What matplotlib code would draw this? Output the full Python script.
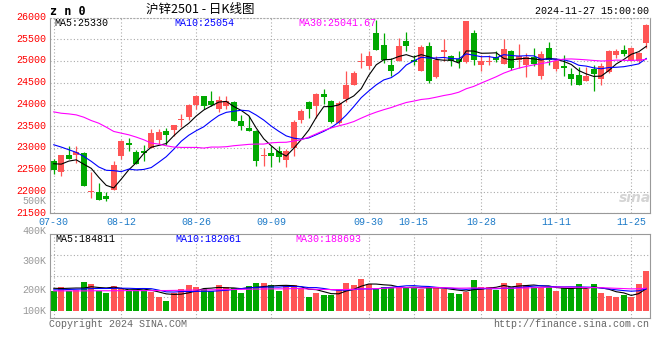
import matplotlib
matplotlib.use("Agg")
import matplotlib.pyplot as plt
import matplotlib.transforms as mtransforms
import numpy as np
import pandas as pd

plt.rcParams['font.family'] = ['Liberation Mono', 'DejaVu Sans Mono']

# daily candles, 07-30 .. 11-27 (80 trading days)
opens = [22710, 22443, 22847, 22832, 22878, 21990, 22000, 21909, 22031, 22824,
         23114, 22901, 22924, 23000, 23191, 23397, 23420, 23649, 23725, 23992,
         24192, 24077, 23900, 23977, 24054, 23615, 23462, 23385, 22808, 22885,
         22923, 22731, 23000, 23639, 24061, 23977, 24254, 24077, 23577, 24131,
         24443, 24985, 24878, 25641, 25374, 24916, 24992, 25473, 25031, 24779,
         25336, 24626, 25198, 25107, 25053, 24977, 25641, 24901, 24969, 25092,
         24939, 25237, 25031, 24916, 25092, 24649, 25298, 24817, 24878, 24710,
         24687, 24535, 24824, 24596, 24748, 25130, 25259, 25008, 24992, 25412]
highs = [22748, 22847, 23053, 23053, 22901, 22455, 22199, 21985, 22702, 23191,
         23229, 22962, 23076, 23435, 23435, 23458, 23534, 23786, 24007, 24221,
         24208, 24308, 24192, 24192, 24077, 23769, 23731, 23423, 23000, 23038,
         23038, 22977, 23654, 23900, 24092, 24269, 24361, 24100, 24077, 24769,
         24763, 25183, 25237, 25946, 25641, 25069, 25542, 25679, 25145, 25359,
         25450, 25107, 25511, 25145, 25237, 25923, 25717, 25145, 25145, 25237,
         25511, 25259, 25389, 25183, 25298, 25237, 25450, 25069, 25145, 24840,
         24855, 24855, 24916, 24954, 25259, 25282, 25374, 25313, 25206, 25847]
lows = [22397, 22351, 22756, 22657, 22123, 21850, 21817, 21779, 22031, 22756,
        22924, 22641, 22695, 23000, 23092, 23076, 23267, 23481, 23649, 23893,
        23900, 23977, 23823, 23900, 23615, 23423, 23385, 22593, 22577, 22562,
        22670, 22562, 22808, 23577, 23692, 23692, 24023, 23577, 23562, 24054,
        24443, 24840, 24824, 25259, 24954, 24649, 24992, 25221, 24916, 24763,
        24496, 24611, 24992, 24878, 24840, 24954, 24916, 24763, 24916, 24977,
        24939, 24802, 24840, 24626, 24878, 24596, 24916, 24779, 24649, 24458,
        24443, 24535, 24321, 24458, 24725, 25069, 25107, 24992, 24954, 25298]
closes = [22489, 22847, 22756, 22916, 22138, 22010, 21817, 21833, 22618, 23153,
          23076, 22641, 22886, 23343, 23359, 23290, 23534, 23671, 23992, 24198,
          23977, 24000, 24115, 24077, 23615, 23515, 23400, 22693, 22846, 22808,
          22793, 22938, 23592, 23846, 23900, 24254, 24169, 23600, 24038, 24461,
          24725, 25008, 25122, 25259, 25031, 24779, 25336, 25336, 24977, 25313,
          24535, 25031, 25244, 24992, 24977, 25923, 25015, 24992, 25008, 25015,
          25282, 24840, 25107, 25084, 24939, 25160, 25031, 24992, 24840, 24588,
          24458, 24649, 24702, 24878, 25221, 25221, 25160, 25298, 25183, 25832]
volumes = [167600, 198600, 167600, 173500, 240500, 223700, 167600, 148300, 207000, 190200,
           162600, 173500, 173500, 159200, 117300, 81300, 150800, 184400, 215400, 198600,
           179300, 167600, 215400, 198600, 192700, 148300, 207000, 232100, 232100, 215400,
           167600, 215400, 215400, 187700, 114800, 148300, 131600, 131600, 181800, 232100,
           215400, 265600, 223700, 179300, 201100, 196100, 196100, 196100, 196100, 179300,
           196100, 196100, 179300, 148300, 139900, 159200, 257300, 196100, 196100, 173500,
           234600, 196100, 234600, 215400, 196100, 196100, 196100, 167600, 187700, 179300,
           223700, 179300, 223700, 148300, 125700, 117300, 131600, 117300, 223700, 335200]

ma5_head = [22640, 22630, 22700, 22730]
ma10_head = [23076, 23023, 22962, 22901, 22809, 22695, 22565, 22489, 22481]
ma30_head = [23832, 23801, 23786, 23763, 23710, 23633, 23572, 23481, 23382, 23343,
             23305, 23252, 23191, 23114, 23092, 23053, 23023, 23015, 23015, 23015,
             23000, 23023, 23023, 23031, 23054, 23069, 23085, 23092, 23092]
vma5_head = [188000, 186000, 188000, 190000]
vma10_head = [175000, 175000, 178000, 180000, 182000, 185000, 186000, 186000, 187000]
vma30_head = [166000, 166000, 166000, 166000, 166000, 167000, 167000, 167000, 167000, 168000,
              168000, 168000, 168000, 168000, 169000, 169000, 170000, 171000, 172000, 173000,
              174000, 175000, 176000, 177000, 178000, 179000, 180000, 181000, 182000]

tick_pos = [0, 9, 19, 29, 42, 48, 57, 67, 77]
tick_labels = ['07-30', '08-12', '08-26', '09-09', '09-30', '10-15', '10-28', '11-11', '11-25']
price_ticks = [21500, 22000, 22500, 23000, 23500, 24000, 24500, 25000, 25500, 26000]


def with_head(values, n, head):
    ma = pd.Series(values, dtype=float).rolling(n).mean().to_numpy()
    ma[:len(head)] = head
    return ma


W, H = 660, 360
RED, GREEN = '#ff5555', '#00a800'
GRID = '#aaaaaa'
EDGE = '#999999'

fig = plt.figure(figsize=(W / 100, H / 100), dpi=100)


def box(x0, y0, x1, y1):
    return [x0 / W, 1 - y1 / H, (x1 - x0) / W, (y1 - y0) / H]


def ftext(x, y, s, **kw):
    kw.setdefault('va', 'center')
    kw.setdefault('fontsize', 7.2)
    fig.text(x / W, 1 - y / H, s, **kw)


x = np.arange(len(closes))
o = np.array(opens); c = np.array(closes)
colors = np.where(c >= o, RED, GREEN)

# ---- price panel
ax = fig.add_axes(box(50, 17.6, 650, 213.3))
ax.vlines(x, lows, highs, colors=colors, linewidth=0.9)
body = np.maximum(np.abs(c - o), 20)
ax.bar(x, body, bottom=np.minimum(o, c), width=0.8, color=colors, linewidth=0)
ax.plot(x, with_head(closes, 5, ma5_head), color='black', lw=0.8)
ax.plot(x, with_head(closes, 10, ma10_head), color='#0000ff', lw=0.8)
ax.plot(x, with_head(closes, 30, ma30_head), color='#ff00ff', lw=0.8)
ax.set_xlim(-0.5, len(x) - 0.5)
ax.set_ylim(21500, 26000)
ax.set_yticks(price_ticks)
ax.set_yticklabels([str(p) for p in price_ticks])
ax.set_xticks(tick_pos)
ax.set_xticklabels(tick_labels)
ax.tick_params(axis='y', length=0, pad=3, labelsize=7.2, labelcolor='#ff0000')
ax.tick_params(axis='x', length=0, pad=2.8, labelsize=7.2, labelcolor='#1e7bc8')
# price labels sit a little above their grid lines
lift = mtransforms.ScaledTranslation(0, 1.8 / 100, fig.dpi_scale_trans)
for lab in ax.get_yticklabels():
    lab.set_transform(lab.get_transform() + lift)
ax.grid(True, color=GRID, linestyle=(0, (1, 2)), linewidth=0.8)
ax.set_axisbelow(True)
for s in ax.spines.values():
    s.set_color(EDGE)
ax.spines['top'].set_linestyle((0, (1, 2)))
ax.spines['top'].set_color(GRID)

# ---- volume panel
VOL_PER_PX = 8380
axv = fig.add_axes(box(50, 234, 650, 317.7))
axv.bar(x, volumes, width=0.8, color=colors, linewidth=0)
axv.plot(x, with_head(volumes, 5, vma5_head), color='black', lw=0.8)
axv.plot(x, with_head(volumes, 10, vma10_head), color='#0000ff', lw=0.8)
axv.plot(x, with_head(volumes, 30, vma30_head), color='#ff00ff', lw=0.8)
vlo, vhi = -7.0 * VOL_PER_PX, 76.7 * VOL_PER_PX
axv.set_xlim(-0.5, len(x) - 0.5)
axv.set_ylim(vlo, vhi)
axv.set_yticks(np.linspace(vlo, vhi, 5)[1:4])
axv.set_xticks(tick_pos)
axv.set_xticklabels([])
axv.set_yticklabels([])
axv.tick_params(length=0)
axv.grid(True, color=GRID, linestyle=(0, (1, 2)), linewidth=0.8)
axv.set_axisbelow(True)
for s in axv.spines.values():
    s.set_color(EDGE)

# ---- texts
ftext(50, 11.5, 'z n 0', fontsize=8.5, weight='bold', family=['DejaVu Sans Mono'])
ftext(200, 9.5, '沪锌2501 - 日K线图', fontsize=9, ha='center',
      family=['Noto Sans CJK SC', 'DejaVu Sans'])
ftext(649, 11.5, '2024-11-27 15:00:00', ha='right', color='black')
ftext(54, 23.5, 'MA5:25330', color='black')
ftext(174, 23.5, 'MA10:25054', color='#0000ff')
ftext(298, 23.5, 'MA30:25041.67', color='#ff00ff')
ftext(55, 238.5, 'MA5:184811', color='black')
ftext(175, 238.5, 'MA10:182061', color='#0000ff')
ftext(295, 238.5, 'MA30:188693', color='#ff00ff')
for yy, lab in [(200.5, '500K'), (231, '400K'), (260.7, '300K'), (290, '200K'), (310.7, '100K')]:
    ftext(46.5, yy, lab, ha='right', color='#999999')
ftext(49, 324, 'Copyright 2024 SINA.COM', color='#666666')
ftext(649, 324, 'http://finance.sina.com.cn', ha='right', color='#666666')
ftext(635, 198, 'sina', ha='center', fontsize=10, style='italic', weight='bold',
      color='#d4d4d4', family=['DejaVu Sans'])

fig.savefig('out.png', dpi=100)
